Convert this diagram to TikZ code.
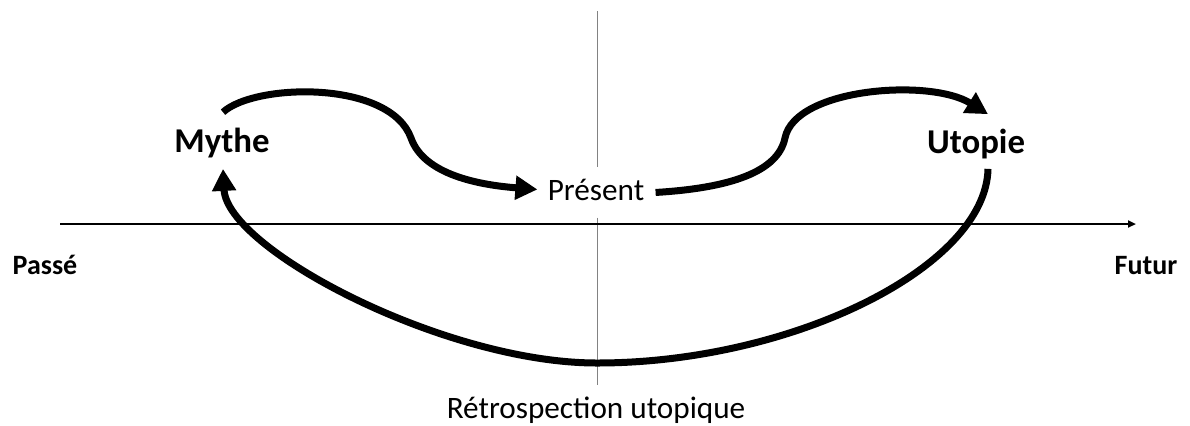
\documentclass[tikz,border=0pt]{standalone}
\usepackage{fontspec}
\setmainfont{Carlito}
\usetikzlibrary{arrows.meta}
\definecolor{vline}{RGB}{130,130,130}
\tikzset{
  big/.style={font=\fontsize{17.4pt}{20pt}\selectfont\bfseries, inner sep=0pt, anchor=base},
  mid/.style={font=\fontsize{15.6pt}{18pt}\selectfont, inner sep=0pt, anchor=base},
  small/.style={font=\fontsize{14pt}{17pt}\selectfont\bfseries, inner sep=0pt, anchor=base},
  flow/.style={line width=3.5pt, -{Triangle[length=11pt,width=11.5pt]}},
  axisline/.style={line width=1pt, -{Triangle[length=4pt,width=3.5pt]}},
  vaxis/.style={line width=0.75pt, draw=vline}
}
\begin{document}
\begin{tikzpicture}[x=0.5pt,y=-0.5pt]
\useasboundingbox (0,0) rectangle (1190,425);
% text nodes
\node[big] (mythe) at (222,152) {Mythe};
\node[big] (utopie) at (976,153) {Utopie};
\node[mid] (present) at (596,200) {Présent};
\node[small] (passe) at (45,274) {Passé};
\node[small] (futur) at (1146,274) {Futur};
\node[mid] (retro) at (596,418) {Rétrospection utopique};
% axes
\coordinate (vtop) at (597.5,11);
\coordinate (vbot) at (597.5,385);
\coordinate (axL) at (60,224);
\coordinate (axR) at (1136,224);
\draw[vaxis] (vtop) -- ([yshift=5.5pt]present.north -| vtop);
\draw[vaxis] ([yshift=-8.5pt]present.south -| vbot) -- (vbot);
\draw[axisline] (axL) -- (axR);
% Mythe -> Present
\draw[flow] ([xshift=0.5pt,yshift=7.5pt]mythe.north)
  .. controls (255,83) and (390,80) .. (411,138)
  .. controls (424,175) and (480,185) .. ([xshift=-5pt]present.west);
% Present -> Utopie
\draw[flow] ([xshift=5.5pt,yshift=-1.5pt]present.east)
  .. controls (730,188) and (778,172) .. (785,138)
  .. controls (795,88) and (930,78) .. ([xshift=6pt,yshift=7pt]utopie.north);
% Utopie -> Mythe (retrospection)
\draw[flow] ([xshift=6pt,yshift=-5pt]utopie.south)
  .. controls (986,267) and (792,363) .. (597,363)
  .. controls (444,363) and (227,249) .. ([xshift=0.5pt,yshift=-5.5pt]mythe.south);
\end{tikzpicture}
\end{document}
